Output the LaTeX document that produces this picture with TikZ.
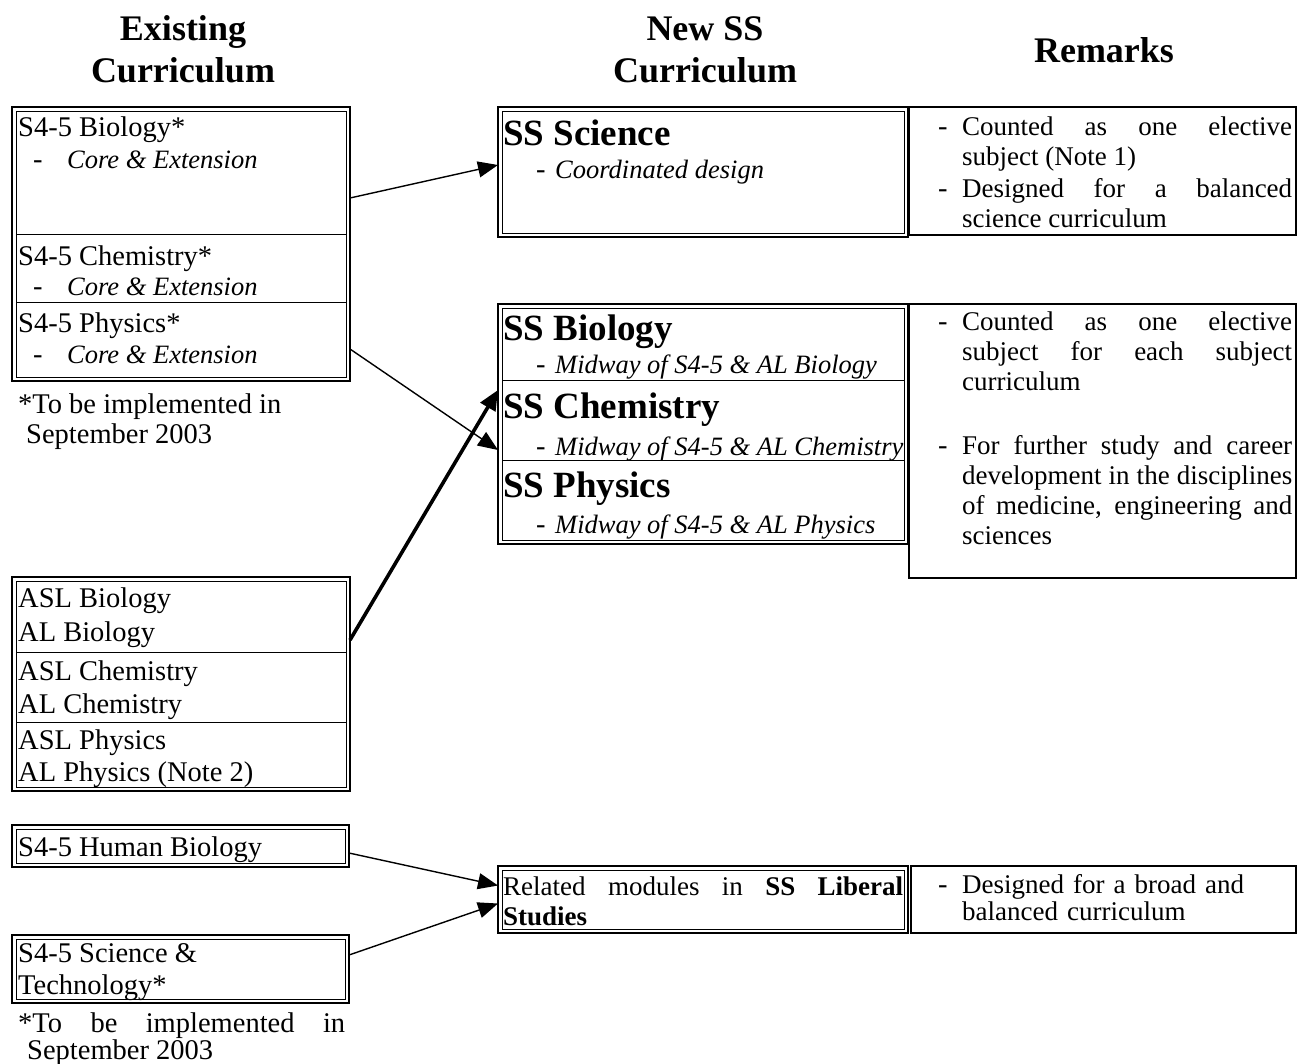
\documentclass[tikz,border=0pt]{standalone}
\usepackage{fontspec}
\setmainfont{Liberation Serif}
\usetikzlibrary{arrows.meta}

\tikzset{
  frm/.style={line width=2.2pt},
  lin/.style={line width=0.9pt},
  remframe/.style={line width=1.8pt},
  cell/.style={anchor=north west,inner sep=0pt,outer sep=0pt,minimum width=#1},
  txt/.style={anchor=base west,inner sep=0pt,font=\fontsize{28.5}{34}\selectfont},
  ital/.style={anchor=base west,inner sep=0pt,font=\fontsize{26.5}{31}\selectfont\itshape},
  subj/.style={anchor=base west,inner sep=0pt,font=\fontsize{37}{42}\selectfont\bfseries},
  head/.style={anchor=base,inner sep=0pt,font=\fontsize{36}{42}\selectfont\bfseries},
  rem/.style={anchor=base west,inner sep=0pt,text width=#1,align=justify,font=\fontsize{27}{30}\selectfont},
  rem/.default=330pt,
  link/.style={line width=1.4pt,-{Triangle[length=20pt,width=16pt]}},
  boldlink/.style={line width=3.6pt,-{Triangle[length=20pt,width=17pt]}}
}

\begin{document}
\begin{tikzpicture}[x=1pt,y=-1pt]%[line cap=round,line join=round]
\useasboundingbox (0,0) rectangle (1297,1063);

\node[head] (hexist1) at (183,40) {Existing};
\node[head] (hexist2) at (183,82) {Curriculum};
\node[head] (hnew1) at (705,40) {New SS};
\node[head] (hnew2) at (705,82) {Curriculum};
\node[head] (hrem) at (1104,62) {Remarks};

\draw[frm] (12,107) rectangle (350,381);
\draw[lin] (16,111) rectangle (346,377);
\draw[lin] (16,234) -- (346,234);
\draw[lin] (16,302) -- (346,302);
\node[cell=338,minimum height=127pt] (sbio) at (12,107) {};
\node[cell=338,minimum height=68pt] (schem) at (12,234) {};
\node[cell=338,minimum height=79pt] (sphys) at (12,302) {};
\node[txt] (sbiot) at (18,136) {S4-5 Biology*};
\node[txt] (schemt) at (18,265) {S4-5 Chemistry*};
\node[txt] (sphyst) at (18,332) {S4-5 Physics*};
\foreach \y in {168,295,363} {
  \node[txt] (dash\y) at (33,\y) {-};
  \node[ital] (core\y) at (67,\y) {Core \& Extension};
}
\node[txt] (note1a) at (18,413) {*To be implemented in};
\node[txt] (note1b) at (26,443) {September 2003};

\draw[frm] (12,577) rectangle (350,791);
\draw[lin] (16,581) rectangle (346,787);
\draw[lin] (16,652) -- (346,652);
\draw[lin] (16,722) -- (346,722);
\node[cell=338,minimum height=75pt] (aslbio) at (12,577) {};
\node[cell=338,minimum height=70pt] (aslchem) at (12,652) {};
\node[cell=338,minimum height=69pt] (aslphys) at (12,722) {};
\node[txt] (al1) at (18,607) {ASL Biology};
\node[txt] (al2) at (18,641) {AL Biology};
\node[txt] (al3) at (18,680) {ASL Chemistry};
\node[txt] (al4) at (18,713) {AL Chemistry};
\node[txt] (al5) at (18,749) {ASL Physics};
\node[txt] (al6) at (18,781) {AL Physics (Note 2)};

\draw[frm] (12,825) rectangle (349,867);
\draw[lin] (16,829) rectangle (345,863);
\node[cell=337,minimum height=42pt] (hbio) at (12,825) {};
\node[txt] (hbiot) at (18,856) {S4-5 Human Biology};

\draw[frm] (12,935) rectangle (349,1003);
\draw[lin] (16,939) rectangle (345,999);
\node[cell=337,minimum height=68pt] (sntech) at (12,935) {};
\node[txt] (sntech1) at (18,962) {S4-5 Science \&};
\node[txt] (sntech2) at (18,994) {Technology*};
\node[rem=327pt,font=\fontsize{28.5}{27}\selectfont] (note2) at (18,1032)
  {*To be implemented in\linebreak\hspace*{9pt}September 2003};

\draw[frm] (498,107) rectangle (908,237);
\draw[lin] (502,111) rectangle (904,233);
\node[cell=410,minimum height=130pt] (ssci) at (498,107) {};
\node[subj] (sscit) at (503,145) {SS Science};
\node[txt] (sscid) at (536,178) {-};
\node[ital] (sscii) at (555,178) {Coordinated design};

\draw[frm] (498,304) rectangle (908,544);
\draw[lin] (502,308) rectangle (904,540);
\draw[lin] (502,380) -- (904,380);
\draw[lin] (502,460) -- (904,460);
\node[cell=410,minimum height=76pt] (ssbio) at (498,304) {};
\node[cell=410,minimum height=80pt] (sschem) at (498,380) {};
\node[cell=410,minimum height=84pt] (ssphys) at (498,460) {};
\foreach \n/\y/\z in {Biology/340/373,Chemistry/418/455,Physics/497/533} {
  \node[subj] (ss\n) at (503,\y) {SS \n};
  \node[txt] (ssd\n) at (536,\z) {-};
  \node[ital] (ssm\n) at (555,\z) {Midway of S4-5 \& AL \n};
}

\draw[frm] (498,866) rectangle (908,933);
\draw[lin] (502,870) rectangle (904,929);
\node[cell=410,minimum height=67pt] (libst) at (498,866) {};
\node[rem=400pt] (libstt) at (503,895)
  {Related modules in \textbf{SS Liberal}\linebreak\textbf{Studies}};

\draw[remframe] (909,107) rectangle (1296,235);
\node[txt] (rd1) at (938,135) {-};
\node[rem] (r1) at (962,135) {Counted as one elective\linebreak subject (Note 1)};
\node[txt] (rd2) at (938,197) {-};
\node[rem] (r2) at (962,197) {Designed for a balanced\linebreak science curriculum};

\draw[remframe] (909,304) rectangle (1296,578);
\node[txt] (rd3) at (938,330) {-};
\node[rem] (r3) at (962,330) {Counted as one elective\linebreak subject for each subject\linebreak curriculum};
\node[txt] (rd4) at (938,454) {-};
\node[rem] (r4) at (962,454) {For further study and career\linebreak development in the disciplines\linebreak of medicine, engineering and\linebreak sciences};

\draw[remframe] (911,866) rectangle (1296,933);
\node[txt] (rd5) at (938,893) {-};
\node[rem,align=left,font=\fontsize{27}{27}\selectfont] (r5) at (962,893) {Designed for a broad and\\balanced curriculum};

\draw[link] ([yshift=-27.5pt]sbio.east) -- ([yshift=7pt]ssci.west);
\draw[link] ([yshift=-7.5pt]sphys.east) -- ([yshift=-30pt]sschem.west);
\draw[boldlink] ([yshift=-25.5pt]aslbio.east) -- ([yshift=30pt]sschem.west);
\draw[link] ([yshift=-7pt]hbio.east) -- ([yshift=14pt]libst.west);
\draw[link] ([yshift=14pt]sntech.east) -- ([yshift=-4pt]libst.west);
\end{tikzpicture}
\end{document}
